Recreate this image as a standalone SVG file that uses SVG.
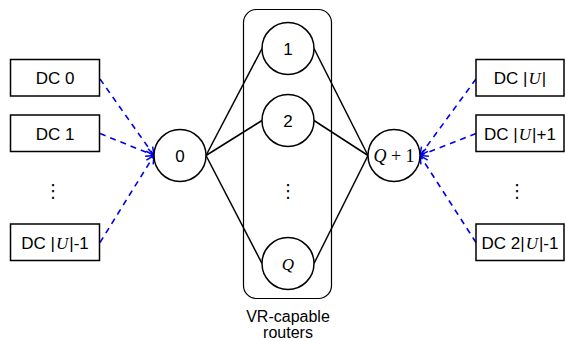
<svg xmlns="http://www.w3.org/2000/svg" width="566" height="341" viewBox="0 0 566 341">
  <style>
    .box { fill: #ffffff; stroke: #000000; stroke-width: 1.5; }
    .node { fill: #ffffff; stroke: #000000; stroke-width: 1.5; }
    .group { fill: none; stroke: #000000; stroke-width: 1.2; }
    .lbl { font-family: "Liberation Sans", Arial, Helvetica, sans-serif; font-size: 16px; fill: #000000; text-anchor: middle; }
    .big { font-size: 17px; }
    .math { font-family: "Liberation Serif", "Times New Roman", serif; font-style: italic; }
    .mathup { font-family: "Liberation Serif", "Times New Roman", serif; }
    .dots { font-family: "DejaVu Sans", sans-serif; font-size: 18px; fill: #000000; text-anchor: middle; }
    .link { fill: none; stroke: #000000; stroke-width: 1.5; }
    .dc { fill: none; stroke: #0000ee; stroke-width: 1.6; stroke-dasharray: 6 5; }
  </style>
  <defs>
    <marker id="open" viewBox="0 0 10 10" refX="9" refY="5" markerWidth="10" markerHeight="10" markerUnits="userSpaceOnUse" orient="auto">
      <path d="M1,1 L9,5 L1,9" fill="none" stroke="#0000ee" stroke-width="1.5"/>
    </marker>
  </defs>

  <!-- router group frame -->
  <g id="vr-group">
    <rect class="group" x="243.5" y="9.5" width="88" height="289" rx="13" ry="13"/>
    <text class="lbl" x="288" y="322">VR-capable</text>
    <text class="lbl" x="288" y="338">routers</text>
  </g>

  <!-- connectors -->
  <g id="connectors">
    <line class="link" x1="206" y1="155.5" x2="262" y2="48.5"/>
    <line class="link" x1="206" y1="155.5" x2="262" y2="120.5"/>
    <line class="link" x1="206" y1="155.5" x2="262" y2="263.5"/>
    <line class="link" x1="314" y1="48.5" x2="368" y2="155.5"/>
    <line class="link" x1="314" y1="120.5" x2="368" y2="155.5"/>
    <line class="link" x1="314" y1="263.5" x2="368" y2="155.5"/>

    <line class="dc" x1="100" y1="79" x2="154" y2="155.5" marker-end="url(#open)"/>
    <line class="dc" x1="100" y1="133.5" x2="154" y2="155.5" marker-end="url(#open)"/>
    <line class="dc" x1="100" y1="242.5" x2="154" y2="155.5" marker-end="url(#open)"/>

    <line class="dc" x1="476" y1="79" x2="420" y2="155.5" marker-end="url(#open)"/>
    <line class="dc" x1="476" y1="133.5" x2="420" y2="155.5" marker-end="url(#open)"/>
    <line class="dc" x1="476" y1="242.5" x2="420" y2="155.5" marker-end="url(#open)"/>
  </g>

  <!-- left data centres -->
  <g id="dc-0">
    <rect class="box" x="10.5" y="59.5" width="89" height="36.5"/>
    <text class="lbl big" x="55" y="84">DC 0</text>
  </g>
  <g id="dc-1">
    <rect class="box" x="10.5" y="115" width="89" height="36.5"/>
    <text class="lbl big" x="55" y="139.5">DC 1</text>
  </g>
  <g id="dc-left-more">
    <text class="dots" x="53" y="197">⋮</text>
  </g>
  <g id="dc-u-minus-1">
    <rect class="box" x="10.5" y="224" width="89" height="36.5"/>
    <text class="lbl big" x="55" y="248.5">DC |<tspan class="math" dx="1">U</tspan><tspan dx="1">|-1</tspan></text>
  </g>

  <!-- source node -->
  <g id="node-0">
    <circle class="node" cx="180" cy="155.5" r="26"/>
    <text class="lbl big" x="180" y="161.5">0</text>
  </g>

  <!-- routers -->
  <g id="node-1">
    <circle class="node" cx="288" cy="48.5" r="26"/>
    <text class="lbl big" x="288" y="54.5">1</text>
  </g>
  <g id="node-2">
    <circle class="node" cx="288" cy="120.5" r="26"/>
    <text class="lbl big" x="288" y="126.5">2</text>
  </g>
  <g id="node-more">
    <text class="dots" x="288" y="197">⋮</text>
  </g>
  <g id="node-q">
    <circle class="node" cx="288" cy="263.5" r="26"/>
    <text class="lbl math" x="288" y="269.5" style="font-size:17px">Q</text>
  </g>

  <!-- sink node -->
  <g id="node-q1">
    <circle class="node" cx="394" cy="155.5" r="26"/>
    <text class="lbl mathup" x="394" y="161.5" style="font-size:18px"><tspan class="math">Q</tspan> + 1</text>
  </g>

  <!-- right data centres -->
  <g id="dc-u">
    <rect class="box" x="476" y="59.5" width="88" height="36.5"/>
    <text class="lbl big" x="520" y="84">DC |<tspan class="math" dx="1">U</tspan><tspan dx="1">|</tspan></text>
  </g>
  <g id="dc-u-plus-1">
    <rect class="box" x="476" y="115" width="88" height="36.5"/>
    <text class="lbl big" x="520" y="139.5">DC |<tspan class="math" dx="1">U</tspan><tspan dx="1">|+1</tspan></text>
  </g>
  <g id="dc-right-more">
    <text class="dots" x="517" y="197">⋮</text>
  </g>
  <g id="dc-2u-minus-1">
    <rect class="box" x="476" y="224" width="88" height="36.5"/>
    <text class="lbl big" x="520" y="248.5">DC 2|<tspan class="math" dx="1">U</tspan><tspan dx="1">|-1</tspan></text>
  </g>
</svg>
